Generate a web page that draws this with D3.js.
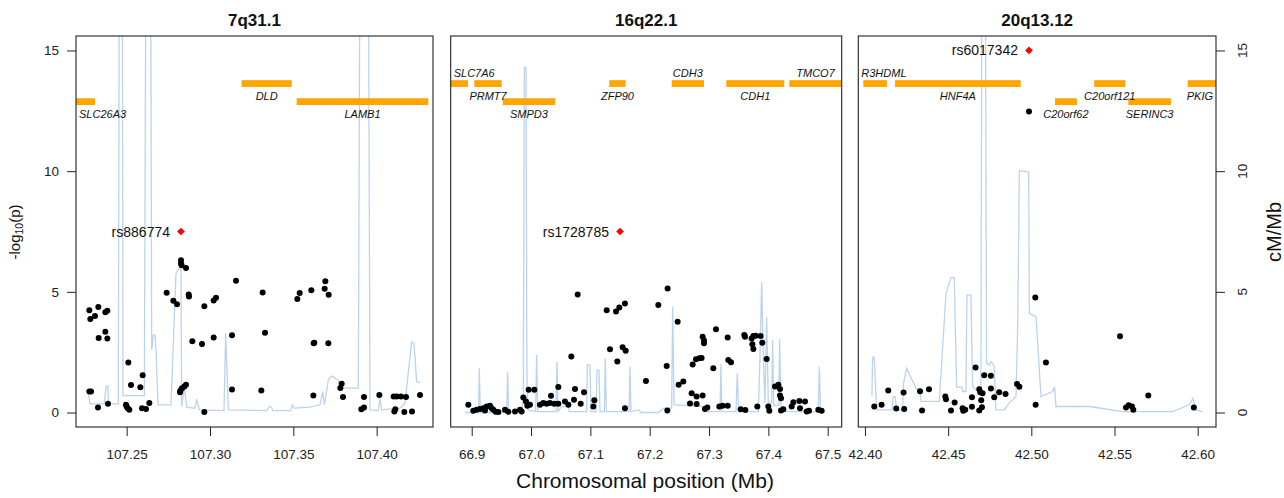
<!DOCTYPE html>
<html>
<head>
<meta charset="utf-8">
<title>Regional association plots</title>
<style type="text/css">
  body { margin: 0; background: #fff; }
  svg text { font-family: "Liberation Sans", Arial, Helvetica, sans-serif; }
</style>
</head>
<body>
<div id="my_dataviz"></div>
<script src="https://d3js.org/d3.v7.min.js"></script>
<script type="text/javascript">

// ---- data ----
var panelTitles = ["7q31.1", "16q22.1", "20q13.12"];
var xDomains = [[107.2196, 107.4338], [66.8646, 67.5236], [42.396, 42.611]];
var xTicks = [[107.25, 107.30, 107.35, 107.40],
              [66.9, 67.0, 67.1, 67.2, 67.3, 67.4, 67.5],
              [42.40, 42.45, 42.50, 42.55, 42.60]];
var xTickFormats = [".2f", ".1f", ".2f"];
var yTicks = [0, 5, 10, 15];

// lead SNPs: name, position (Mb), -log10(p)
var leadNames = ["rs886774", "rs1728785", "rs6017342"];
var leadPos = [107.2826, 67.1499, 42.4986];
var leadP = [7.5, 7.5, 15.0];

// other SNPs: [position, -log10(p)]
var snps1 = [
  [107.2276,4.24],[107.2330,4.37],[107.2282,3.87],[107.2310,4.0],[107.2372,4.15],[107.2384,4.22],
  [107.2372,3.35],[107.2332,3.09],[107.2384,3.07],[107.2276,0.87],[107.2286,0.87],[107.2328,0.21],
  [107.2388,0.36],[107.2510,2.07],[107.2526,1.14],[107.2582,1.05],[107.2596,1.54],[107.2496,0.32],
  [107.2506,0.18],[107.2516,0.11],[107.2500,0.25],[107.2592,0.18],[107.2616,0.15],[107.2636,0.39],
  [107.2740,4.96],[107.2780,4.63],[107.2802,4.49],[107.2826,6.31],[107.2826,6.17],[107.2830,6.10],
  [107.2856,5.99],[107.2872,4.89],[107.2874,4.81],[107.2822,0.90],[107.2832,1.01],[107.2846,1.08],
  [107.2856,1.15],[107.2820,0.84],[107.2894,2.95],[107.2952,2.84],[107.2966,4.40],[107.2966,0.02],
  [107.3022,4.64],[107.3036,4.75],[107.3022,3.11],[107.3132,3.20],[107.3132,0.95],[107.3156,5.46],
  [107.3316,4.97],[107.3330,3.31],[107.3308,0.91],[107.3524,4.70],[107.3538,4.95],[107.3608,5.07],
  [107.3692,5.44],[107.3688,5.13],[107.3712,4.88],[107.3622,2.87],[107.3626,2.89],[107.3710,2.87],
  [107.3620,0.70],[107.3790,1.19],[107.3782,1.02],[107.3798,0.64],[107.3908,0.14],[107.3924,0.21],
  [107.3924,0.64],[107.4016,0.73],[107.4102,0.66],[107.4120,0.66],[107.4146,0.66],[107.4176,0.64],
  [107.4106,0.04],[107.4112,0.14],[107.4166,0.02],[107.4212,0.04],[107.4260,0.73]
];
var snps2 = [
  [66.8943,0.32],[66.9027,0.07],[66.9083,0.11],[66.9140,0.15],[66.9196,0.18],[66.9224,0.08],
  [66.9252,0.25],[66.9308,0.28],[66.9336,0.18],[66.9364,0.11],[66.9404,0.03],[66.9449,0.02],
  [66.9561,0.11],[66.9617,0.03],[66.9730,0.04],[66.9814,0.11],[66.9842,0.04],[66.9870,0.62],
  [66.9915,0.46],[66.9937,0.28],[66.9960,0.94],[66.9982,0.32],[67.0055,0.94],[67.0151,0.32],
  [67.0207,0.39],[67.0263,0.36],[67.0319,0.39],[67.0336,0.69],[67.0392,0.36],[67.0460,1.06],
  [67.0460,0.36],[67.0572,0.46],[67.0629,0.32],[67.0679,2.32],[67.0724,0.53],[67.0741,0.97],
  [67.0786,4.89],[67.0837,0.36],[67.0893,0.84],[67.1050,0.25],[67.1067,0.51],[67.1275,4.24],
  [67.1331,2.62],[67.1432,4.19],[67.1454,2.11],[67.1488,4.35],[67.1544,2.70],[67.1583,4.52],
  [67.1595,2.56],[67.1583,0.18],[67.1937,1.31],[67.2145,4.45],[67.2286,1.93],[67.2297,0.08],
  [67.2302,5.14],[67.2471,3.76],[67.2488,1.15],[67.2567,1.28],[67.2679,0.37],[67.2707,0.80],
  [67.2724,1.99],[67.2780,2.21],[67.2791,0.66],[67.2791,0.35],[67.2836,2.25],[67.2875,2.26],
  [67.2892,3.14],[67.2915,2.98],[67.2915,2.87],[67.2892,0.70],[67.2931,0.15],[67.2971,0.21],
  [67.3072,1.83],[67.3117,3.45],[67.3173,0.25],[67.3229,0.28],[67.3314,0.28],[67.3314,3.11],
  [67.3325,2.18],[67.3370,2.08],[67.3533,0.14],[67.3612,0.10],[67.3595,3.21],[67.3606,3.14],
  [67.3718,3.07],[67.3730,2.83],[67.3747,2.63],[67.3747,3.17],[67.3786,3.18],[67.3814,0.25],
  [67.3870,3.17],[67.3898,2.89],[67.3971,2.22],[67.3999,0.25],[67.4016,0.07],[67.4112,1.08],
  [67.4168,1.15],[67.4196,0.97],[67.4196,0.70],[67.4213,0.59],[67.4213,0.08],[67.4252,0.14],
  [67.4393,0.25],[67.4421,0.43],[67.4522,0.48],[67.4533,0.18],[67.4617,0.46],[67.4645,0.04],
  [67.4685,0.07],[67.4842,0.11],[67.4898,0.07]
];
var snps3 = [
  [42.4056,0.25],[42.4100,0.32],[42.4140,0.91],[42.4188,0.17],[42.4236,0.15],[42.4232,0.83],
  [42.4331,0.88],[42.4343,0.08],[42.4385,0.96],[42.4483,0.66],[42.4487,0.55],[42.4517,0.08],
  [42.4539,0.41],[42.4587,0.18],[42.4591,0.07],[42.4603,0.11],[42.4643,0.63],[42.4643,0.24],
  [42.4665,1.87],[42.4687,0.96],[42.4693,0.84],[42.4707,0.80],[42.4699,0.51],[42.4703,0.22],
  [42.4687,0.08],[42.4717,1.54],[42.4757,1.52],[42.4757,0.99],[42.4777,0.63],[42.4807,0.84],
  [42.4845,0.77],[42.4914,1.18],[42.4928,1.07],[42.5024,4.77],[42.5026,0.32],[42.5088,2.07],
  [42.5533,3.16],[42.5569,0.21],[42.5585,0.30],[42.5605,0.25],[42.5613,0.11],[42.5703,0.70],
  [42.5977,0.21],[42.4986,12.47]
];

// recombination rate: [position, cM/Mb]
var recomb1 = [
  [107.2272,0.73],[107.2280,0.36],[107.2366,0.36],[107.2376,1.08],[107.2386,1.10],[107.2392,0.36],
  [107.2450,0.36],[107.2456,20],[107.2474,20],[107.2478,0.70],[107.2606,0.70],[107.2616,20],
  [107.2644,20],[107.2650,2.60],[107.2660,3.21],[107.2670,3.21],[107.2676,2.60],[107.2688,0.32],
  [107.2766,0.32],[107.2796,5.76],[107.2816,5.99],[107.2826,5.90],[107.2830,0.25],[107.2846,1.07],
  [107.2860,0.22],[107.2910,0.18],[107.2920,0.55],[107.2936,0.11],[107.3084,0.08],[107.3094,3.28],
  [107.3110,0.11],[107.3340,0.08],[107.3356,0.25],[107.3370,0.22],[107.3376,0.08],[107.3484,0.08],
  [107.3494,0.32],[107.3504,0.18],[107.3600,0.22],[107.3660,0.32],[107.3676,0.87],[107.3686,0.32],
  [107.3710,1.35],[107.3730,1.51],[107.3770,1.35],[107.3790,1.01],[107.3890,1.01],[107.3900,20],
  [107.3950,20],[107.3960,0.11],[107.4010,0.08],[107.4020,0.59],[107.4030,0.11],[107.4140,0.18],
  [107.4170,0.39],[107.4210,2.94],[107.4224,2.87],[107.4240,1.28],[107.4260,1.24]
];
var recomb2 = [
  [66.8887,0.0],[66.9117,0.0],[66.9128,1.83],[66.9145,0.0],[66.9589,0.0],[66.9606,1.70],
  [66.9623,0.0],[66.9842,0.04],[66.9870,0.66],[66.9887,14.3],[66.9915,14.3],[66.9932,1.08],
  [66.9949,0.11],[67.0078,0.04],[67.0095,2.38],[67.0112,0.04],[67.0421,0.04],[67.0437,2.11],
  [67.0454,0.04],[67.0516,0.25],[67.0629,0.25],[67.0645,0.04],[67.0937,0.04],[67.0949,1.97],
  [67.0994,1.97],[67.1010,0.04],[67.1095,0.04],[67.1112,1.76],[67.1145,1.76],[67.1162,0.04],
  [67.1235,0.04],[67.1252,2.25],[67.1269,0.04],[67.1651,0.04],[67.1668,1.90],[67.1685,0.04],
  [67.1825,0.11],[67.1848,0.0],[67.2145,0.0],[67.2230,0.18],[67.2370,0.18],[67.2387,4.38],
  [67.2410,0.32],[67.2904,0.25],[67.2932,0.04],[67.3185,0.04],[67.3200,2.0],[67.3215,0.04],
  [67.3454,0.04],[67.3477,1.63],[67.3499,0.04],[67.3831,0.04],[67.3859,2.32],[67.3887,5.41],
  [67.3915,2.32],[67.3943,0.39],[67.3971,3.97],[67.3999,0.39],[67.4055,0.39],[67.4072,3.0],
  [67.4090,0.30],[67.4175,0.30],[67.4190,3.05],[67.4210,0.30],[67.4252,0.04],[67.4842,0.04],
  [67.4859,1.90],[67.4881,0.04],[67.4954,0.0]
];
var recomb3 = [
  [42.4042,0.66],[42.4046,2.29],[42.4056,2.29],[42.4062,1.35],[42.4070,0.11],[42.4162,0.11],
  [42.4170,0.66],[42.4182,0.66],[42.4190,0.11],[42.4226,0.11],[42.4232,1.21],[42.4250,1.83],
  [42.4307,1.00],[42.4331,0.87],[42.4337,0.46],[42.4447,0.46],[42.4487,4.93],[42.4517,5.59],
  [42.4537,5.59],[42.4551,1.05],[42.4583,1.05],[42.4587,0.87],[42.4607,0.87],[42.4613,4.86],
  [42.4637,4.86],[42.4647,1.07],[42.4667,0.94],[42.4697,0.94],[42.4703,20],[42.4723,20],
  [42.4731,2.04],[42.4747,1.97],[42.4757,2.11],[42.4767,2.04],[42.4777,1.90],[42.4787,0.11],
  [42.4837,0.11],[42.4867,0.39],[42.4908,0.66],[42.4918,3.62],[42.4928,10.03],[42.4984,9.96],
  [42.4988,4.11],[42.5028,3.97],[42.5058,0.66],[42.5128,0.87],[42.5140,1.07],[42.5148,0.25],
  [42.5350,0.25],[42.5549,0.04],[42.5849,0.04],[42.5949,0.32],[42.5973,0.59],[42.5985,0.11],
  [42.6029,0.04]
];

// genes: [name, start, end, row, label side]
var genes1 = [
  ["SLC26A3", 107.205, 107.231, 2, "below"],
  ["DLD", 107.319, 107.349, 1, "below"],
  ["LAMB1", 107.352, 107.431, 2, "below"]
];
var genes2 = [
  ["SLC7A6", 66.850, 66.894, 1, "above"],
  ["PRMT7", 66.9044, 66.9506, 1, "below"],
  ["SMPD3", 66.9522, 67.0409, 2, "below"],
  ["ZFP90", 67.1319, 67.1595, 1, "below"],
  ["CDH3", 67.2371, 67.2915, 1, "above"],
  ["CDH1", 67.3291, 67.4268, 1, "below"],
  ["TMCO7", 67.4353, 67.540, 1, "above"]
];
var genes3 = [
  ["R3HDML", 42.399, 42.4132, 1, "above"],
  ["HNF4A", 42.4181, 42.4936, 1, "below"],
  ["C20orf62", 42.5142, 42.5274, 2, "below"],
  ["C20orf121", 42.5378, 42.5565, 1, "below"],
  ["SERINC3", 42.5583, 42.5839, 2, "below"],
  ["PKIG", 42.594, 42.620, 1, "below"]
];

var allSnps = [snps1, snps2, snps3];
var allRecomb = [recomb1, recomb2, recomb3];
var allGenes = [genes1, genes2, genes3];

// ---- layout ----
var W = 1284, H = 498;
var panelLeft = [76, 450.7, 858.3], panelRight = [433, 841.7, 1216];
var plotTop = 36, plotBottom = 427;
var recombColor = "#bcd3ee";

var svg = d3.select("#my_dataviz").append("svg")
    .attr("width", W).attr("height", H);

var y = d3.scaleLinear().domain([-0.6, 15.6]).range([plotBottom, plotTop]);
var rowY = {1: y(13.63), 2: y(12.88)};

panelTitles.forEach(function(title, i) {
  var x = d3.scaleLinear().domain(xDomains[i]).range([panelLeft[i], panelRight[i]]);
  var g = svg.append("g");

  g.append("clipPath").attr("id", "clip" + i)
    .append("rect")
      .attr("x", panelLeft[i]).attr("y", plotTop)
      .attr("width", panelRight[i] - panelLeft[i]).attr("height", plotBottom - plotTop);

  var plot = g.append("g").attr("clip-path", "url(#clip" + i + ")");

  // recombination rate
  plot.append("path")
    .datum(allRecomb[i])
    .attr("fill", "none")
    .attr("stroke", recombColor)
    .attr("stroke-width", 1.3)
    .attr("d", d3.line().x(function(d) { return x(d[0]); }).y(function(d) { return y(d[1]); }));

  // genes
  var genes = allGenes[i];
  plot.selectAll("rect.gene")
    .data(genes).enter().append("rect")
      .attr("class", "gene")
      .attr("x", function(d) { return x(d[1]); })
      .attr("y", function(d) { return rowY[d[3]] - 3.4; })
      .attr("width", function(d) { return x(d[2]) - x(d[1]); })
      .attr("height", 6.8)
      .attr("fill", "#ffa500");

  g.selectAll("text.gene")
    .data(genes).enter().append("text")
      .attr("class", "gene")
      .attr("font-size", "11px")
      .attr("font-style", "italic")
      .attr("fill", "#111")
      .attr("text-anchor", "middle")
      .attr("y", function(d) { return d[4] == "above" ? rowY[d[3]] - 7 : rowY[d[3]] + 16; })
      .text(function(d) { return d[0]; })
      .attr("x", function(d) {
        var w = this.getComputedTextLength();
        var cx = (x(Math.max(d[1], xDomains[i][0])) + x(Math.min(d[2], xDomains[i][1]))) / 2;
        cx = Math.max(cx, panelLeft[i] + 3 + w / 2);
        cx = Math.min(cx, panelRight[i] - 3 - w / 2);
        return cx;
      });

  // SNPs
  plot.selectAll("circle")
    .data(allSnps[i]).enter().append("circle")
      .attr("cx", function(d) { return x(d[0]); })
      .attr("cy", function(d) { return y(d[1]); })
      .attr("r", 3)
      .attr("fill", "#000");

  // lead SNP
  var lx = x(leadPos[i]), ly = y(leadP[i]);
  g.append("path")
    .attr("d", d3.symbol().type(d3.symbolSquare).size(30)())
    .attr("transform", "translate(" + lx + "," + ly + ") rotate(45)")
    .attr("fill", "#ff0000");
  g.append("text")
    .attr("x", lx - 11).attr("y", ly + 5)
    .attr("text-anchor", "end")
    .attr("font-size", "14px")
    .attr("fill", "#111")
    .text(leadNames[i]);

  // frame
  g.append("rect")
    .attr("x", panelLeft[i]).attr("y", plotTop)
    .attr("width", panelRight[i] - panelLeft[i]).attr("height", plotBottom - plotTop)
    .attr("fill", "none").attr("stroke", "#222").attr("stroke-width", 1.1);

  // x axis
  var xa = g.append("g")
    .attr("transform", "translate(0," + plotBottom + ")")
    .call(d3.axisBottom(x).tickValues(xTicks[i]).tickFormat(d3.format(xTickFormats[i]))
      .tickSize(9).tickPadding(13));
  xa.select(".domain").remove();
  xa.selectAll("line").attr("stroke", "#222");
  xa.selectAll("text").attr("font-size", "13.5px").attr("fill", "#222")
    .style("font-family", '"Liberation Sans", Arial, sans-serif');

  // title
  g.append("text")
    .attr("x", (panelLeft[i] + panelRight[i]) / 2).attr("y", 26)
    .attr("text-anchor", "middle")
    .attr("font-size", "17px").attr("font-weight", "bold")
    .attr("fill", "#111")
    .text(title);
});

// left y axis
var ya = svg.append("g")
  .attr("transform", "translate(" + panelLeft[0] + ",0)")
  .call(d3.axisLeft(y).tickValues(yTicks).tickSize(9).tickPadding(8));
ya.select(".domain").remove();
ya.selectAll("line").attr("stroke", "#222");
ya.selectAll("text").attr("font-size", "13.5px").attr("fill", "#222")
  .style("font-family", '"Liberation Sans", Arial, sans-serif');

// right y axis (recombination rate, same scale)
var ra = svg.append("g")
  .attr("transform", "translate(" + panelRight[2] + ",0)")
  .call(d3.axisRight(y).tickValues(yTicks).tickSize(9).tickFormat(""));
ra.select(".domain").remove();
ra.selectAll("line").attr("stroke", "#222");
svg.append("g").selectAll("text")
  .data(yTicks).enter().append("text")
    .attr("transform", function(d) { return "translate(1246.5," + y(d) + ") rotate(-90)"; })
    .attr("text-anchor", "middle")
    .attr("font-size", "13.5px").attr("fill", "#222")
    .text(function(d) { return d; });

// axis titles
var yl = svg.append("text")
  .attr("transform", "translate(20,232) rotate(-90)")
  .attr("text-anchor", "middle")
  .attr("font-size", "15px").attr("fill", "#111");
yl.append("tspan").text("-log");
yl.append("tspan").attr("font-size", "10.5px").attr("dy", 3).text("10");
yl.append("tspan").attr("dy", -3).text("(p)");

svg.append("text")
  .attr("transform", "translate(1281,232) rotate(-90)")
  .attr("text-anchor", "middle")
  .attr("font-size", "20px").attr("fill", "#111")
  .text("cM/Mb");

svg.append("text")
  .attr("x", 645).attr("y", 488)
  .attr("text-anchor", "middle")
  .attr("font-size", "21px").attr("fill", "#111")
  .text("Chromosomal position (Mb)");

</script>
</body>
</html>
